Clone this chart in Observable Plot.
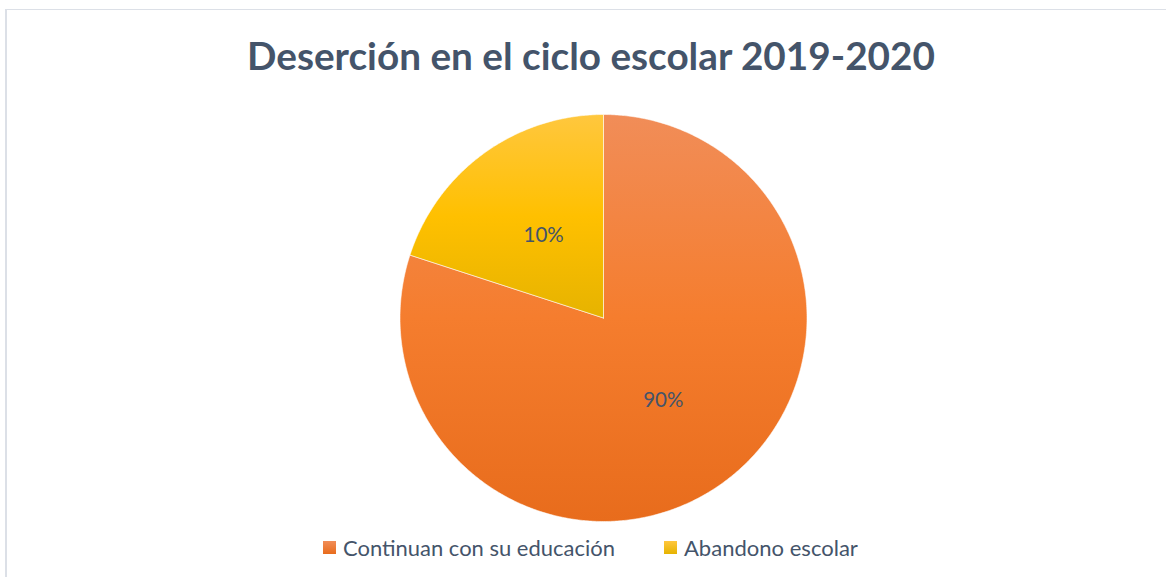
<!DOCTYPE html>
<html>
<head>
<meta charset="utf-8">
<script src="https://cdn.jsdelivr.net/npm/d3@7"></script>
<script src="https://cdn.jsdelivr.net/npm/@observablehq/plot@0.6"></script>
<style>
  html, body { margin: 0; padding: 0; background: #fff; }
  #wrap { position: relative; width: 1166px; height: 577px; overflow: hidden; font-family: Lato, "Open Sans", sans-serif; }
  #frame { position: absolute; left: 5px; top: 9px; width: 1200px; height: 620px; border-top: 1.5px solid #DCE0E7; border-left: 2px solid #DCE0E7; box-sizing: border-box; }
  #title { position: absolute; top: 32px; left: 0; width: 1182px; text-align: center; font-weight: 700; color: #44546A; font-size: 36px; white-space: nowrap; }
  #title span { display: inline-block; }
  #plot { position: absolute; left: 0; top: 0; }
  #legend { position: absolute; left: 323px; top: 533px; height: 28px; color: #44546A; font-size: 21px; white-space: nowrap; }
  .item { position: absolute; top: 0; display: flex; align-items: center; height: 28px; }
  .sw { width: 13px; height: 13px; margin-right: 7px; }
</style>
</head>
<body>
<div id="wrap">
  <div id="frame"></div>
  <div id="plot"></div>
  <div id="title"><span id="titleText"></span></div>
  <div id="legend"></div>
</div>
<script>
// ---- data ----
const title = "Deserción en el ciclo escolar 2019-2020";
const categories = ["Continuan con su educación", "Abandono escolar"];
const shares = [80, 20];            // slice sizes as drawn in the picture
const labels = ["90%", "10%"];      // data labels as printed on the picture

// ---- styles ----
const gradTop = ["#F18D58", "#FFC73E"];
const gradMid = ["#F57D2E", "#FFC000"];
const gradBottom = ["#E86C1C", "#E6B300"];

document.getElementById("titleText").textContent = title;

const pie = d3.pie().sort(null).value(d => d)(shares);
const slices = pie.map((p, i) => {
  const pts = [{x: 0, y: 0}];
  const n = Math.max(2, Math.ceil((p.endAngle - p.startAngle) / (Math.PI / 360)));
  for (let k = 0; k <= n; k++) {
    const a = p.startAngle + (p.endAngle - p.startAngle) * k / n;
    pts.push({x: Math.sin(a), y: Math.cos(a)});
  }
  pts.push({x: 0, y: 0});
  const mid = (p.startAngle + p.endAngle) / 2;
  return {cat: categories[i], label: labels[i], pts, lx: 0.5 * Math.sin(mid), ly: 0.5 * Math.cos(mid), grad: `url(#grad${i})`};
});

const defs = () => {
  const ns = "http://www.w3.org/2000/svg";
  const d = document.createElementNS(ns, "defs");
  categories.forEach((c, i) => {
    const g = document.createElementNS(ns, "linearGradient");
    g.setAttribute("id", `grad${i}`);
    g.setAttribute("x1", "0"); g.setAttribute("y1", "0");
    g.setAttribute("x2", "0"); g.setAttribute("y2", "1");
    [[0, gradTop[i]], [0.5, gradMid[i]], [1, gradBottom[i]]].forEach(([o, col]) => {
      const s = document.createElementNS(ns, "stop");
      s.setAttribute("offset", o);
      s.setAttribute("stop-color", col);
      g.appendChild(s);
    });
    d.appendChild(g);
  });
  return d;
};

const chart = Plot.plot({
  width: 1166,
  height: 577,
  marginLeft: 399.5,
  marginRight: 359.5,
  marginTop: 114,
  marginBottom: 56,
  x: {domain: [-1, 1], axis: null},
  y: {domain: [-1, 1], axis: null},
  style: {background: "transparent", fontFamily: "Lato, 'Open Sans', sans-serif"},
  marks: [
    defs,
    ...slices.map(s => Plot.line(s.pts, {x: "x", y: "y", fill: s.grad, stroke: "#ffffff", strokeWidth: 0.8, strokeOpacity: 0.7, curve: "linear"})),
    Plot.text(slices, {x: "lx", y: "ly", text: "label", fill: "#44546A", fontSize: 20.5, textAnchor: "middle", lineAnchor: "middle"})
  ]
});
document.getElementById("plot").appendChild(chart);

// legend
const legend = document.getElementById("legend");
const lefts = [0, 341];
categories.forEach((c, i) => {
  const it = document.createElement("div");
  it.className = "item";
  it.style.left = lefts[i] + "px";
  const sw = document.createElement("div");
  sw.className = "sw";
  sw.style.background = `linear-gradient(${gradTop[i]}, ${gradBottom[i]})`;
  const tx = document.createElement("span");
  tx.textContent = c;
  tx.className = "lt";
  it.appendChild(sw); it.appendChild(tx);
  legend.appendChild(it);
});

// fit text widths to the picture
function fit(el, target) {
  const w = el.getBoundingClientRect().width;
  const fs = parseFloat(getComputedStyle(el).fontSize);
  el.style.fontSize = (fs * target / w) + "px";
}
fit(document.getElementById("titleText"), 688);
const lts = document.querySelectorAll(".lt");
fit(lts[0], 272);
fit(lts[1], 174);
</script>
</body>
</html>
